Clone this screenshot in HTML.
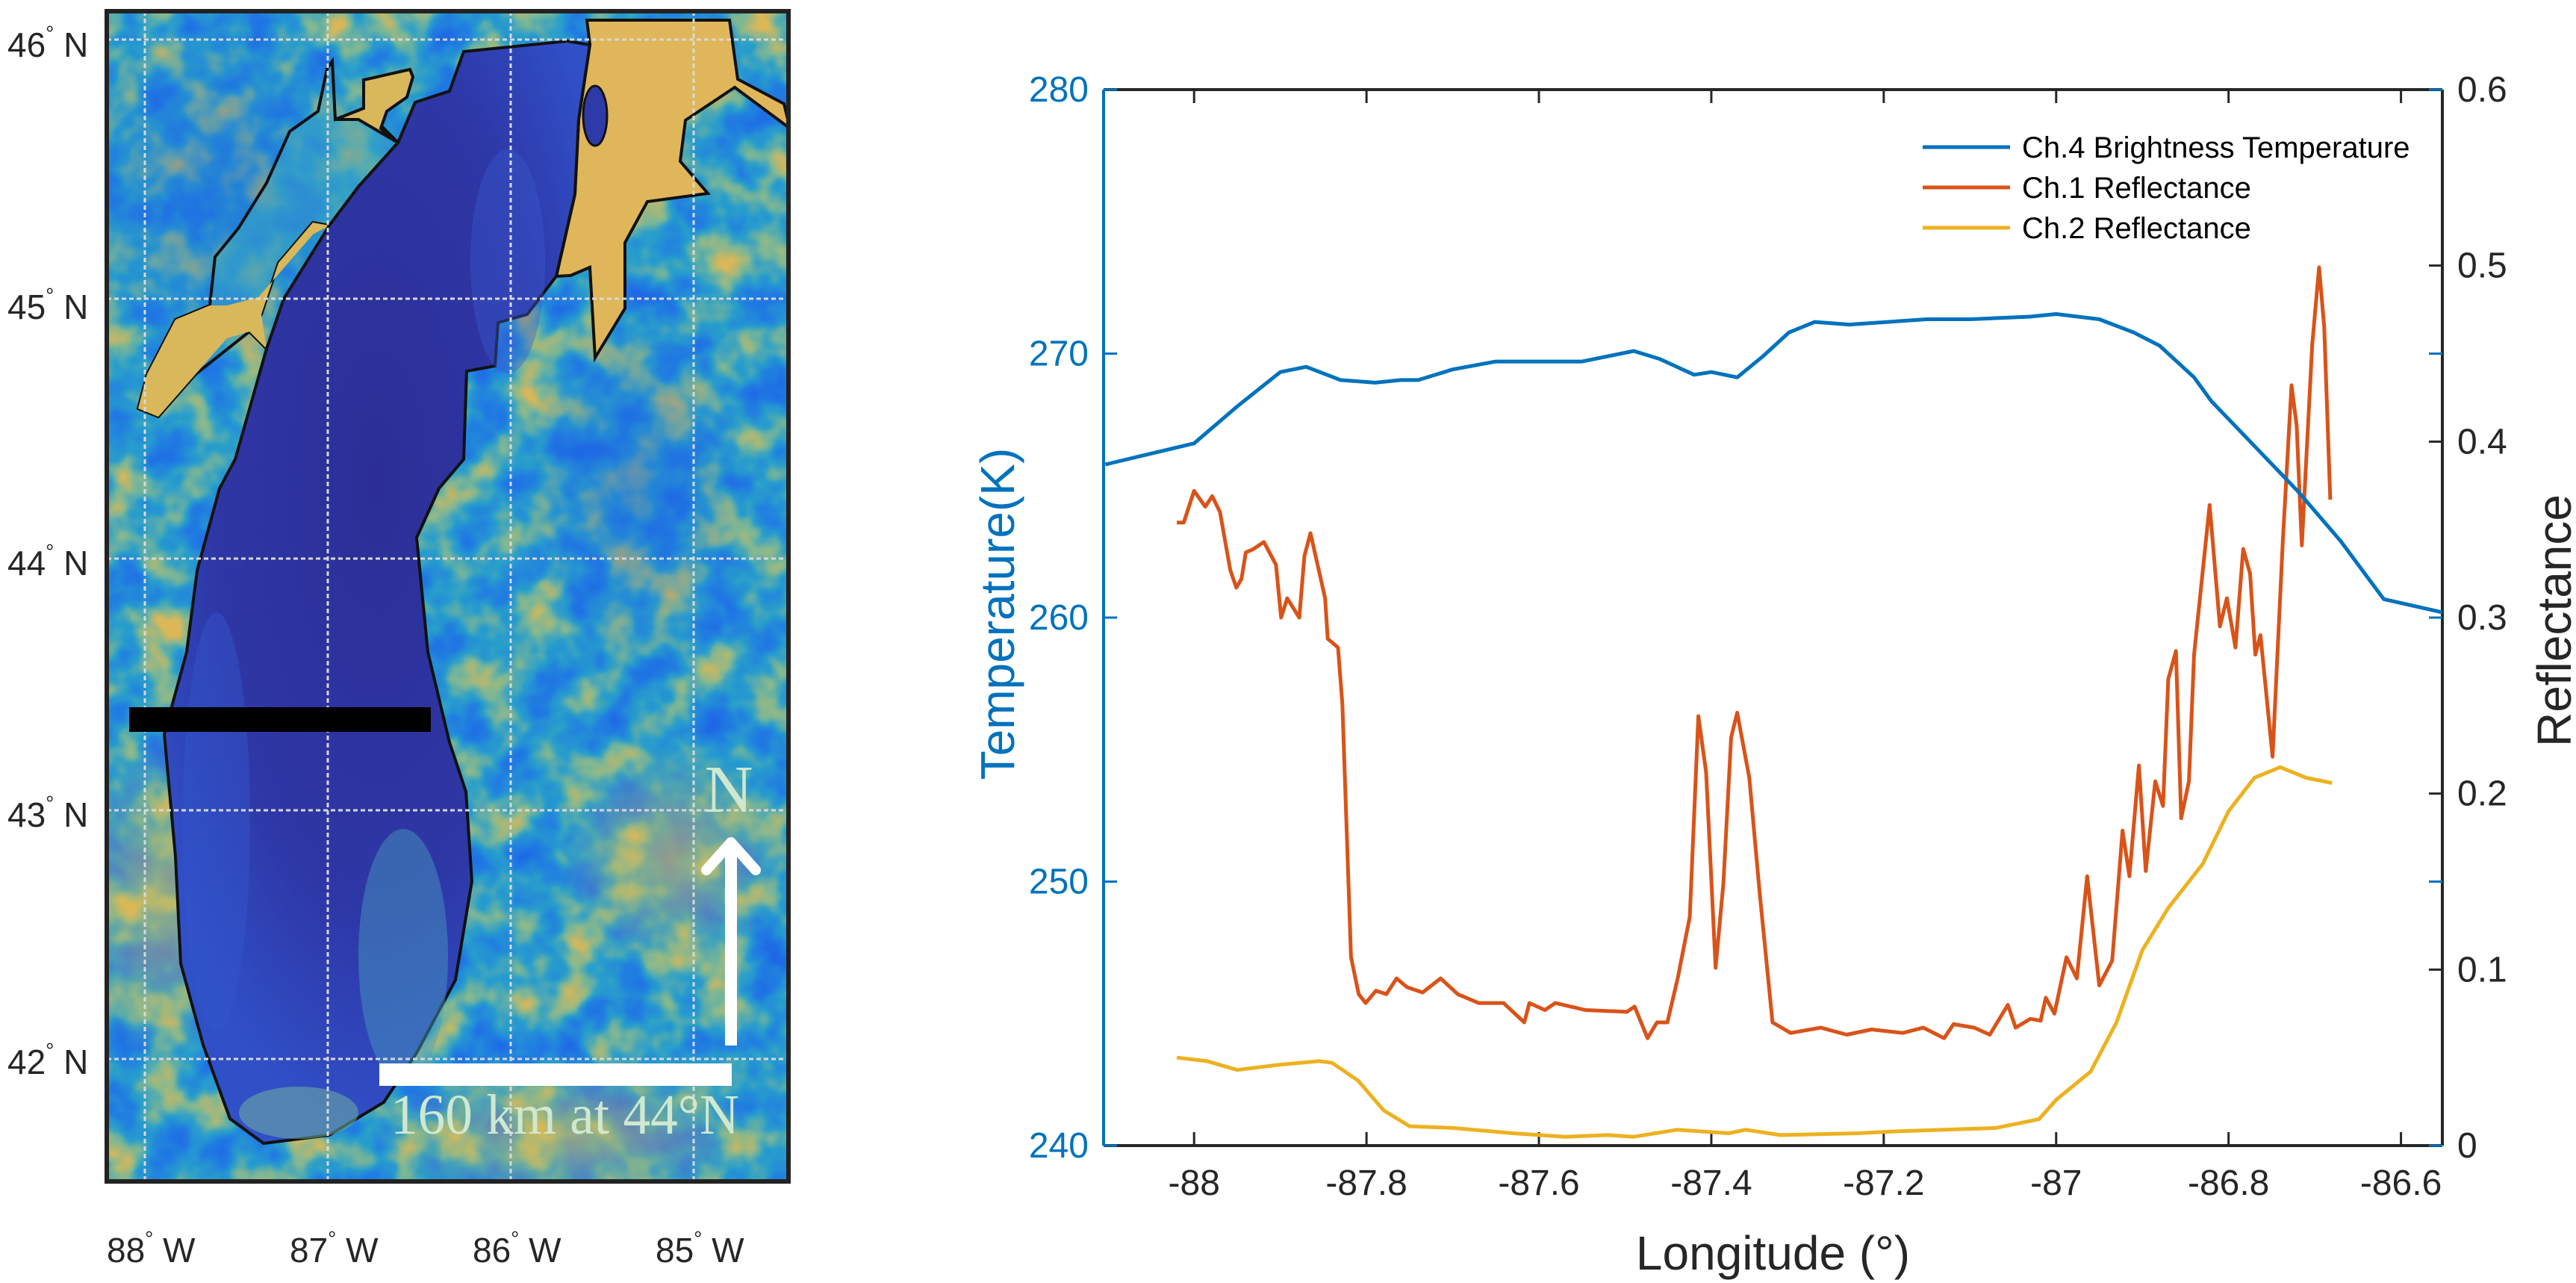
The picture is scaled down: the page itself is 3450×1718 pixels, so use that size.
<!DOCTYPE html>
<html><head><meta charset="utf-8">
<style>
html,body{margin:0;padding:0;background:#fff;}
svg{display:block;}
text{font-family:"Liberation Sans",sans-serif;}
</style></head>
<body>
<svg id="root" width="3450" height="1718" viewBox="0 0 3450 1718" xmlns="http://www.w3.org/2000/svg">
<defs>
<filter id="mottle" x="0" y="0" width="100%" height="100%" color-interpolation-filters="sRGB">
  <feTurbulence type="fractalNoise" baseFrequency="0.016" numOctaves="3" seed="7"/>
  <feColorMatrix type="matrix" values="1 0 0 0 0  1 0 0 0 0  1 0 0 0 0  0 0 0 0 1"/>
  <feComponentTransfer>
    <feFuncR type="table" tableValues="0.12 0.12 0.13 0.16 0.5 0.85 0.9"/>
    <feFuncG type="table" tableValues="0.38 0.42 0.5 0.62 0.72 0.72 0.72"/>
    <feFuncB type="table" tableValues="0.9 0.9 0.88 0.8 0.58 0.35 0.3"/>
  </feComponentTransfer>
</filter>
<radialGradient id="yel" cx="50%" cy="50%" r="50%"><stop offset="0" stop-color="#e0b850" stop-opacity="0.6"/><stop offset="1" stop-color="#e0b850" stop-opacity="0"/></radialGradient>
<radialGradient id="blu" cx="50%" cy="50%" r="50%"><stop offset="0" stop-color="#1f66e0" stop-opacity="0.5"/><stop offset="1" stop-color="#1f66e0" stop-opacity="0"/></radialGradient>
<radialGradient id="lakeg" cx="50%" cy="40%" r="60%"><stop offset="0" stop-color="#2c2e96"/><stop offset="0.65" stop-color="#2e37a6"/><stop offset="1" stop-color="#3050c8"/></radialGradient>
<clipPath id="mapclip"><rect x="143" y="15" width="913" height="1567"/></clipPath>
</defs>

<!-- MAP -->
<g clip-path="url(#mapclip)">
  <rect x="143" y="15" width="913" height="1567" fill="#3a90c8"/>
  <rect x="143" y="15" width="913" height="1567" filter="url(#mottle)"/>
  <ellipse cx="300" cy="250" rx="200" ry="250" fill="url(#blu)"/>
  <ellipse cx="850" cy="650" rx="150" ry="250" fill="url(#blu)"/>
  <ellipse cx="220" cy="1200" rx="120" ry="220" fill="url(#yel)"/>
  <ellipse cx="760" cy="1520" rx="260" ry="90" fill="url(#yel)"/>
  <ellipse cx="900" cy="1150" rx="150" ry="150" fill="url(#yel)"/>
  <polygon fill="#38a4c4" fill-opacity="0.55" stroke="#111" stroke-width="4"
    points="185,547 197,501 235,428 281,409 288,344 319,306 357,245 388,176 426,149 438,92 445,82 449,160 487,145 533,191 480,250 441,302 419,298 373,352 350,421 340,440 357,467 334,444 262,501 212,558"/>
  <polygon fill="#d8b85a" stroke="none"
    points="185,547 212,558 262,501 304,453 334,444 357,467 350,421 373,352 419,298 441,302 419,314 380,359 346,398 304,409 281,409 235,428 197,501"/>
  <polygon fill="#d8b85a" stroke="#111" stroke-width="4"
    points="449,160 487,145 487,107 549,93 553,103 545,130 518,149 510,172 533,191 480,160"/>
  <polygon fill="#e0b65a" stroke="#111" stroke-width="4"
    points="790,60 786,27 977,27 988,106 1050,139 1058,172 984,117 918,161 911,216 948,259 867,270 837,325 837,413 797,479 790,358 764,369 745,370 770,260 775,160"/>
  <polygon fill="url(#lakeg)" stroke="#111" stroke-width="4"
    points="621,69 760,55 790,60 775,160 770,260 745,370 706,421 667,432 663,490 625,497 621,615 588,654 558,720 573,873 602,994 624,1060 632,1180 610,1312 558,1410 514,1476 441,1520 353,1531 308,1498 272,1399 242,1290 235,1147 220,983 250,873 264,764 294,654 315,615 357,467 380,400 441,302 480,250 533,191 556,137 602,122"/>
  <ellipse cx="290" cy="1100" rx="45" ry="280" fill="#3456cc" opacity="0.45"/>
  <ellipse cx="540" cy="1280" rx="60" ry="170" fill="#4a9fc0" opacity="0.45"/>
  <ellipse cx="400" cy="1490" rx="80" ry="35" fill="#70b0a0" opacity="0.55"/>
  <ellipse cx="680" cy="350" rx="50" ry="150" fill="#3a5ad0" opacity="0.4"/>
  <ellipse cx="797" cy="155" rx="16" ry="40" fill="#2e3aa8" stroke="#111" stroke-width="3"/>
  <g stroke="#d8d8d8" stroke-width="3" stroke-dasharray="6,4">
    <line x1="194" y1="15" x2="194" y2="1582"/><line x1="439" y1="15" x2="439" y2="1582"/>
    <line x1="684" y1="15" x2="684" y2="1582"/><line x1="929" y1="15" x2="929" y2="1582"/>
    <line x1="143" y1="53" x2="1056" y2="53"/><line x1="143" y1="400" x2="1056" y2="400"/>
    <line x1="143" y1="748" x2="1056" y2="748"/><line x1="143" y1="1085" x2="1056" y2="1085"/>
    <line x1="143" y1="1418" x2="1056" y2="1418"/>
  </g>
  <rect x="173" y="947" width="404" height="33" fill="#000"/>
  <rect x="508" y="1424" width="472" height="30" fill="#fff"/>
  <text x="523" y="1518" font-size="76" fill="#d0e8d0" textLength="467" lengthAdjust="spacingAndGlyphs" style="font-family:'Liberation Serif',serif">160 km at 44°N</text>
  <line x1="979" y1="1400" x2="979" y2="1135" stroke="#fff" stroke-width="16"/>
  <polyline points="946,1165 979,1128 1012,1165" fill="none" stroke="#fff" stroke-width="14" stroke-linecap="round" stroke-linejoin="round"/>
  <text x="976" y="1087" text-anchor="middle" font-size="90" fill="#d0e8d0" style="font-family:'Liberation Serif',serif">N</text>
</g>
<rect x="143" y="15" width="913" height="1567" fill="none" stroke="#222" stroke-width="6"/>
<g font-size="46" fill="#262626">
  <text x="10" y="76">46<tspan font-size="28" dy="-22">°</tspan><tspan dy="22"> N</tspan></text>
  <text x="10" y="427">45<tspan font-size="28" dy="-22">°</tspan><tspan dy="22"> N</tspan></text>
  <text x="10" y="770">44<tspan font-size="28" dy="-22">°</tspan><tspan dy="22"> N</tspan></text>
  <text x="10" y="1107">43<tspan font-size="28" dy="-22">°</tspan><tspan dy="22"> N</tspan></text>
  <text x="10" y="1438">42<tspan font-size="28" dy="-22">°</tspan><tspan dy="22"> N</tspan></text>
</g>
<g font-size="46" fill="#262626">
  <text x="143" y="1690">88<tspan font-size="28" dy="-22">°</tspan><tspan dy="22"> W</tspan></text>
  <text x="388" y="1690">87<tspan font-size="28" dy="-22">°</tspan><tspan dy="22"> W</tspan></text>
  <text x="633" y="1690">86<tspan font-size="28" dy="-22">°</tspan><tspan dy="22"> W</tspan></text>
  <text x="878" y="1690">85<tspan font-size="28" dy="-22">°</tspan><tspan dy="22"> W</tspan></text>
</g>

<g id="chart"></g>
</svg>
<script>
const xTicks=[-88,-87.8,-87.6,-87.4,-87.2,-87,-86.8,-86.6];
const xTickLabels=["-88","-87.8","-87.6","-87.4","-87.2","-87","-86.8","-86.6"];
const tTicks=[240,250,260,270,280];
const tTickLabels=["240","250","260","270","280"];
const rTicks=[0,0.1,0.2,0.3,0.4,0.5,0.6];
const rTickLabels=["0","0.1","0.2","0.3","0.4","0.5","0.6"];
const btLon=[-88.103,-88.0,-87.95,-87.90,-87.87,-87.83,-87.79,-87.76,-87.74,-87.70,-87.65,-87.59,-87.55,-87.49,-87.46,-87.42,-87.40,-87.37,-87.34,-87.31,-87.28,-87.24,-87.15,-87.10,-87.03,-87.00,-86.95,-86.91,-86.88,-86.84,-86.82,-86.77,-86.72,-86.67,-86.62,-86.552];
const btVal=[265.8,266.6,268.0,269.3,269.5,269.0,268.9,269.0,269.0,269.4,269.7,269.7,269.7,270.1,269.8,269.2,269.3,269.1,269.9,270.8,271.2,271.1,271.3,271.3,271.4,271.5,271.3,270.8,270.3,269.1,268.2,266.5,264.8,262.9,260.7,260.2];
const ch2Lon=[-88.02,-87.985,-87.95,-87.90,-87.855,-87.84,-87.81,-87.78,-87.75,-87.70,-87.63,-87.57,-87.52,-87.49,-87.44,-87.38,-87.36,-87.32,-87.23,-87.19,-87.13,-87.07,-87.02,-87.00,-86.96,-86.93,-86.90,-86.87,-86.83,-86.80,-86.77,-86.74,-86.71,-86.68];
const ch2Val=[0.050,0.048,0.043,0.046,0.048,0.047,0.037,0.020,0.011,0.010,0.007,0.005,0.006,0.005,0.009,0.007,0.009,0.006,0.007,0.008,0.009,0.010,0.015,0.026,0.042,0.070,0.111,0.135,0.160,0.190,0.209,0.215,0.209,0.206];
const ch1Lon=[-88.020,-88.012,-88.000,-87.987,-87.979,-87.970,-87.958,-87.951,-87.945,-87.940,-87.931,-87.919,-87.905,-87.899,-87.892,-87.878,-87.872,-87.865,-87.848,-87.845,-87.833,-87.828,-87.818,-87.809,-87.801,-87.789,-87.777,-87.765,-87.753,-87.735,-87.714,-87.694,-87.670,-87.641,-87.617,-87.611,-87.593,-87.581,-87.546,-87.498,-87.489,-87.474,-87.463,-87.451,-87.439,-87.425,-87.415,-87.406,-87.395,-87.386,-87.377,-87.370,-87.356,-87.344,-87.329,-87.308,-87.273,-87.243,-87.214,-87.178,-87.154,-87.130,-87.119,-87.095,-87.077,-87.056,-87.047,-87.030,-87.018,-87.012,-87.002,-86.988,-86.976,-86.964,-86.950,-86.935,-86.923,-86.915,-86.904,-86.896,-86.885,-86.876,-86.870,-86.861,-86.855,-86.846,-86.840,-86.822,-86.810,-86.802,-86.792,-86.783,-86.775,-86.769,-86.763,-86.749,-86.737,-86.727,-86.721,-86.715,-86.703,-86.695,-86.689,-86.682];
const ch1Val=[0.354,0.354,0.372,0.363,0.369,0.360,0.327,0.317,0.322,0.337,0.339,0.343,0.330,0.300,0.311,0.300,0.335,0.348,0.311,0.288,0.283,0.251,0.107,0.086,0.081,0.088,0.086,0.095,0.090,0.087,0.095,0.086,0.081,0.081,0.070,0.081,0.077,0.081,0.077,0.076,0.079,0.061,0.070,0.070,0.095,0.130,0.244,0.212,0.101,0.149,0.232,0.246,0.209,0.144,0.070,0.064,0.067,0.063,0.066,0.064,0.067,0.061,0.069,0.067,0.063,0.080,0.067,0.072,0.071,0.084,0.075,0.107,0.095,0.153,0.091,0.105,0.179,0.153,0.216,0.156,0.207,0.193,0.265,0.281,0.186,0.207,0.279,0.364,0.295,0.311,0.283,0.339,0.325,0.279,0.290,0.221,0.344,0.432,0.409,0.341,0.455,0.499,0.465,0.367];

const L=1478,R=3271,T=120,B=1534;
const xMin=-88.105,xMax=-86.552;
function sx(v){return L+(v-xMin)/(xMax-xMin)*(R-L);}
function sT(v){return B-(v-240)/40*(B-T);}
function sR(v){return B-v/0.6*(B-T);}
const NS='http://www.w3.org/2000/svg';
const g=document.getElementById('chart');
function mk(tag,attrs,parent){const e=document.createElementNS(NS,tag);for(const k in attrs)e.setAttribute(k,attrs[k]);(parent||g).appendChild(e);return e;}

let e;
e=mk('line',{x1:L,y1:T,x2:R,y2:T,stroke:'#262626','stroke-width':4});


e=mk('line',{x1:L,y1:B,x2:R,y2:B,stroke:'#262626','stroke-width':4});


e=mk('line',{x1:R,y1:T,x2:R,y2:B,stroke:'#262626','stroke-width':4});



xTicks.forEach((v,i)=>{
  const x=sx(v);
  e=mk('line',{x1:x,y1:B,x2:x,y2:B-18,stroke:'#262626','stroke-width':3});
  
  
  e=mk('line',{x1:x,y1:T,x2:x,y2:T+18,stroke:'#262626','stroke-width':3});
  
  
  e=mk('text',{x:x,y:B+66,'text-anchor':'middle','font-size':48,fill:'#262626'});
  e.textContent=xTickLabels[i];
  
  
});
rTicks.forEach((v,i)=>{
  const y=sR(v);
  e=mk('line',{x1:R,y1:y,x2:R-18,y2:y,stroke:'#262626','stroke-width':3});
  
  
  e=mk('text',{x:R+20,y:y+16,'font-size':48,fill:'#262626'});
  e.textContent=rTickLabels[i];
  
  
});
tTicks.forEach((v,i)=>{
  const y=sT(v);
  e=mk('line',{x1:L,y1:y,x2:L+18,y2:y,stroke:'#0072BD','stroke-width':3});
  
  
  e=mk('line',{x1:R,y1:y,x2:R-18,y2:y,stroke:'#0072BD','stroke-width':3});
  
  
  e=mk('text',{x:L-20,y:y+16,'text-anchor':'end','font-size':48,fill:'#0072BD'});
  e.textContent=tTickLabels[i];
  
  
});
e=mk('line',{x1:L,y1:T,x2:L,y2:B,stroke:'#0072BD','stroke-width':4});



function path(lons,vals,fy,color,name){
  let d='';lons.forEach((v,i)=>{d+=(i?'L':'M')+sx(v).toFixed(1)+','+fy(vals[i]).toFixed(1);});
  const p=mk('path',{d:d,fill:'none',stroke:color,'stroke-width':5,'stroke-linejoin':'round'});
  
  
}
path(ch2Lon,ch2Val,sR,'#EDB120','ch2-reflectance-line');
path(ch1Lon,ch1Val,sR,'#D95319','ch1-reflectance-line');
path(btLon,btVal,sT,'#0072BD','ch4-brightness-temperature-line');

const legNames=['Ch.4 Brightness Temperature','Ch.1 Reflectance','Ch.2 Reflectance'];
const legColors=['#0072BD','#D95319','#EDB120'];
legNames.forEach((n,i)=>{
  const y=197+i*54;
  e=mk('line',{x1:2575,y1:y,x2:2692,y2:y,stroke:legColors[i],'stroke-width':5});
  
  
  e=mk('text',{x:2708,y:y+14,'font-size':40,fill:'#000'});
  e.textContent=n;
  
  
});

e=mk('text',{x:(L+R)/2,y:1700,'text-anchor':'middle','font-size':64,fill:'#262626'});
e.textContent='Longitude (°)';


e=mk('text',{x:0,y:0,'text-anchor':'middle','font-size':64,fill:'#0072BD',transform:'translate(1358,822) rotate(-90)'});
e.textContent='Temperature(K)';


e=mk('text',{x:0,y:0,'text-anchor':'middle','font-size':64,fill:'#262626',transform:'translate(3443,831) rotate(-90)'});
e.textContent='Reflectance';


</script>
</body></html>
